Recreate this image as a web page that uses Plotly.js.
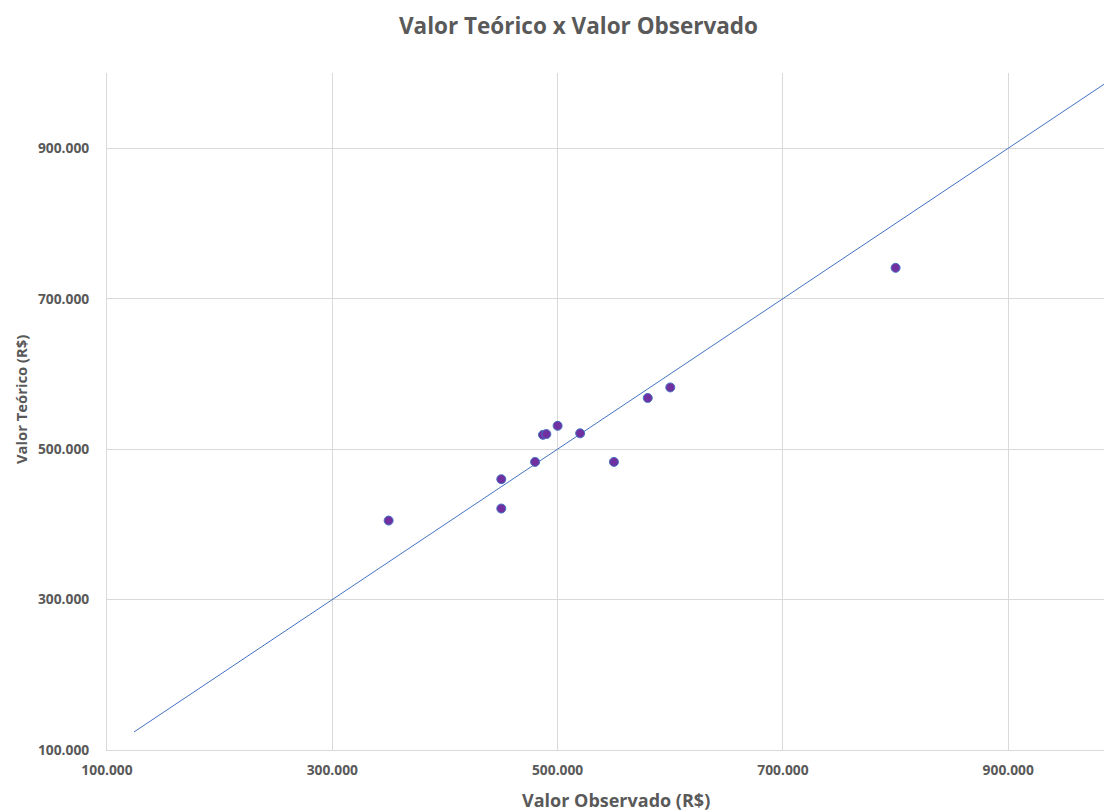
<!DOCTYPE html>
<html>
<head>
<meta charset="utf-8">
<script src="https://cdn.plot.ly/plotly-3.0.1.min.js"></script>
<style>html,body{margin:0;padding:0;background:#fff;}#chart{width:1104px;height:811px;}</style>
</head>
<body>
<div id="chart"></div>
<script>
const valorObservado = [350000, 450000, 450000, 480000, 487000, 490000, 500000, 520000, 550000, 580000, 600000, 800000];
const valorTeorico   = [405000, 460000, 421000, 483000, 519000, 520000, 531000, 521000, 483000, 568000, 582000, 741000];
const linhaX = [124000, 985000];
const linhaY = [124000, 985000];
const tickVals = [100000, 300000, 500000, 700000, 900000];
const tituloX = 'Valor Observado (R$)';
const tituloY = 'Valor Teórico (R$)';

const font = "'Open Sans', 'Noto Sans', 'Liberation Sans', sans-serif";
const traces = [
  {x: linhaX, y: linhaY, type: 'scatter', mode: 'lines',
   line: {color: '#4472C4', width: 1}, hoverinfo: 'skip', showlegend: false},
  {x: valorObservado, y: valorTeorico, type: 'scatter', mode: 'markers',
   marker: {size: 9, color: '#7030A0', line: {color: '#4472C4', width: 1}}, showlegend: false}
];
const layout = {
  width: 1104, height: 811,
  margin: {l: 107, r: 0, t: 73, b: 61},
  paper_bgcolor: '#fff', plot_bgcolor: '#fff',
  separators: ',.',
  title: {text: '<b>Valor Teórico x Valor Observado</b>', x: 0.524, xanchor: 'center', y: 0.968, yanchor: 'middle',
          font: {family: font, size: 22.5, color: '#595959'}},
  xaxis: {range: [100000, 985000], tickvals: tickVals, tickformat: ',', showgrid: true, gridcolor: '#d9d9d9',
          showline: true, linecolor: '#d9d9d9', zeroline: false, ticks: '', ticklabelstandoff: 7,
          tickfont: {family: font, size: 13.8, color: '#595959', weight: 'bold'}},
  yaxis: {range: [100000, 1000000], tickvals: tickVals, tickformat: ',', showgrid: true, gridcolor: '#d9d9d9',
          showline: true, linecolor: '#d9d9d9', zeroline: false, ticks: '', ticklabelstandoff: 14,
          tickfont: {family: font, size: 13.8, color: '#595959', weight: 'bold'}},
  annotations: [
    {text: '<b>' + tituloX + '</b>', xref: 'paper', yref: 'paper', x: 0.5105, y: -0.0735,
     xanchor: 'center', yanchor: 'middle', showarrow: false,
     font: {family: font, size: 18, color: '#595959'}},
    {text: '<b>' + tituloY + '</b>', xref: 'paper', yref: 'paper', x: -0.0855, y: 0.518,
     xanchor: 'center', yanchor: 'middle', showarrow: false, textangle: -90,
     font: {family: font, size: 14.8, color: '#595959'}}
  ]
};
Plotly.newPlot('chart', traces, layout, {displayModeBar: false});
</script>
</body>
</html>
